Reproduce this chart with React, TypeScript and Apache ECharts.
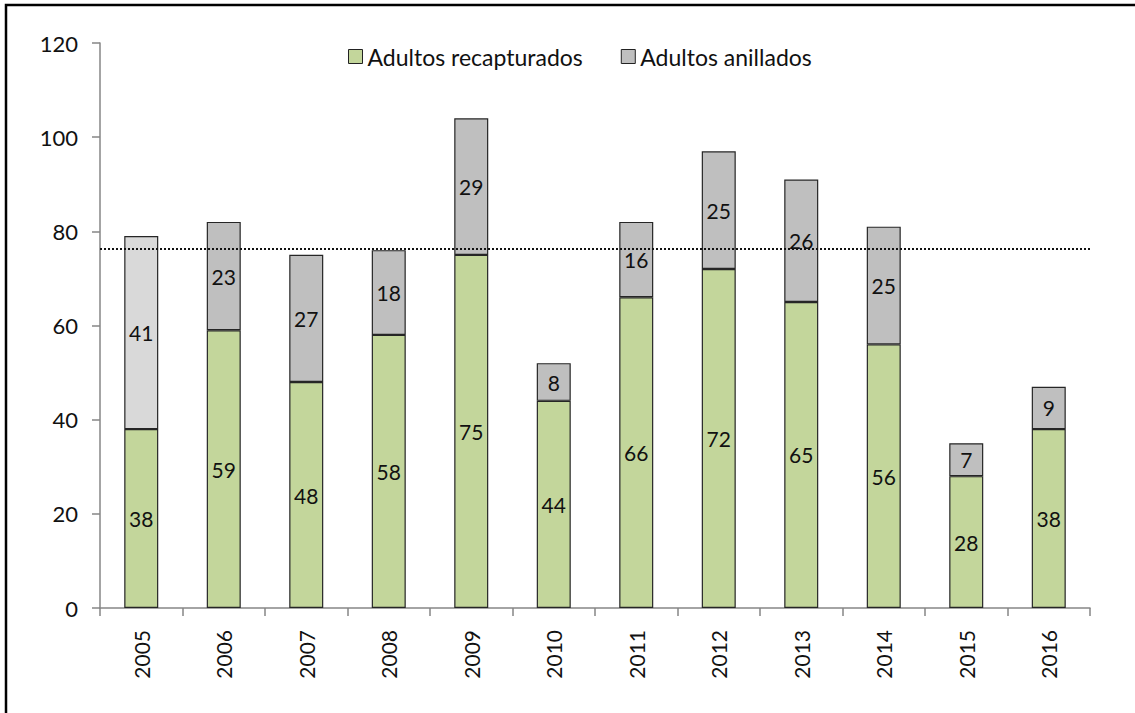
import React, { useEffect, useRef } from "react";
import * as echarts from "echarts";

const years = ["2005", "2006", "2007", "2008", "2009", "2010", "2011", "2012", "2013", "2014", "2015", "2016"];
const recapturados = [38, 59, 48, 58, 75, 44, 66, 72, 65, 56, 28, 38];
const anillados = [41, 23, 27, 18, 29, 8, 16, 25, 26, 25, 7, 9];
const meanLine = 76.4;

const FONT = "Lato, 'Open Sans', sans-serif";

export default function App() {
  const ref = useRef<HTMLDivElement>(null);
  useEffect(() => {
    if (!ref.current) return;
    const chart = echarts.init(ref.current, null, { renderer: "svg" });
    chart.setOption({
      animation: false,
      backgroundColor: "#ffffff",
      textStyle: { fontFamily: FONT },
      graphic: [
        {
          type: "rect",
          shape: { x: 6, y: 5, width: 1140, height: 720 },
          style: { fill: "none", stroke: "#000", lineWidth: 2.5 },
          silent: true,
        },
      ],
      legend: {
        top: 40,
        left: 343,
        icon: "rect",
        itemWidth: 14,
        itemHeight: 14,
        itemGap: 38,
        textStyle: { fontSize: 23, color: "#111", fontFamily: FONT },
        data: [
          { name: "Adultos recapturados", itemStyle: { color: "#C3D69B", borderColor: "#222", borderWidth: 1 } },
          { name: "Adultos anillados", itemStyle: { color: "#BFBFBF", borderColor: "#222", borderWidth: 1 } },
        ],
      },
      grid: { left: 100, right: 45, top: 43, bottom: 105 },
      xAxis: {
        type: "category",
        data: years,
        axisLine: { lineStyle: { color: "#868686", width: 1.5 } },
        axisTick: { show: true, length: 8, lineStyle: { color: "#868686", width: 1.5 } },
        axisLabel: { rotate: 90, fontSize: 21, color: "#111", margin: 22, fontFamily: FONT },
      },
      yAxis: {
        type: "value",
        min: 0,
        max: 120,
        interval: 20,
        splitLine: { show: false },
        axisLine: { show: true, lineStyle: { color: "#868686", width: 1.5 } },
        axisTick: { show: true, length: 8, lineStyle: { color: "#868686", width: 1.5 } },
        axisLabel: { fontSize: 22, color: "#111", margin: 22, fontFamily: FONT },
      },
      series: [
        {
          name: "Adultos recapturados",
          type: "bar",
          stack: "total",
          barWidth: 34,
          data: recapturados,
          itemStyle: { color: "#C3D69B", borderColor: "#262626", borderWidth: 1.2 },
          label: { show: true, position: "inside", fontSize: 21, color: "#111", fontFamily: FONT },
          markLine: {
            silent: true,
            symbol: "none",
            label: { show: false },
            lineStyle: { color: "#111", type: [2, 2], width: 2 },
            data: [{ yAxis: meanLine }],
          },
        },
        {
          name: "Adultos anillados",
          type: "bar",
          stack: "total",
          barWidth: 34,
          data: anillados.map((v, i) =>
            i === 0 ? { value: v, itemStyle: { color: "#D9D9D9" } } : v
          ),
          itemStyle: { color: "#BFBFBF", borderColor: "#262626", borderWidth: 1.2 },
          label: { show: true, position: "inside", fontSize: 21, color: "#111", fontFamily: FONT },
        },
      ],
    });
    return () => chart.dispose();
  }, []);
  return (
    <div
      ref={ref}
      style={{ position: "absolute", left: 0, top: 0, width: 1135, height: 713 }}
    />
  );
}
